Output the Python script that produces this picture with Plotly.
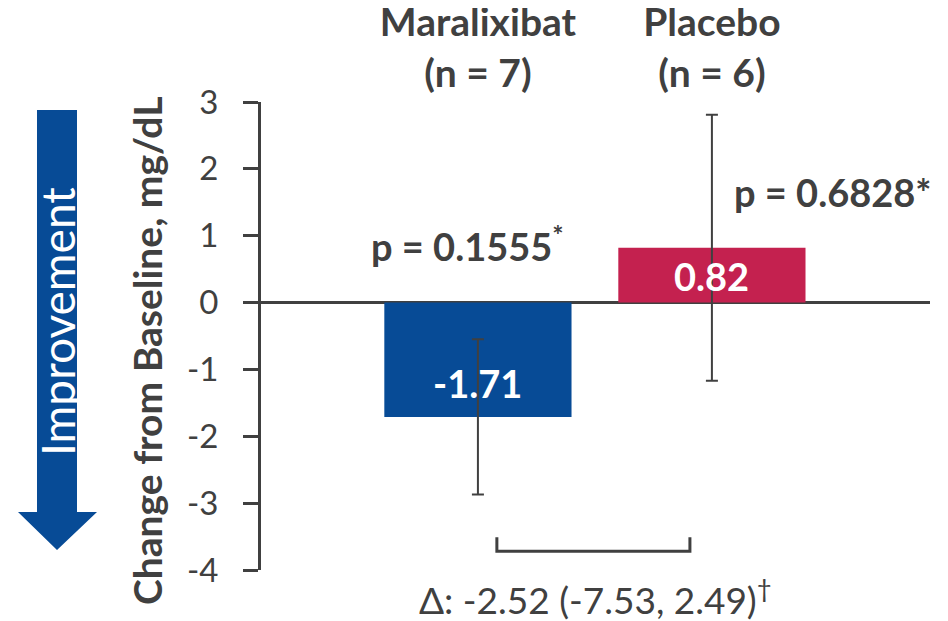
import plotly.graph_objects as go

# ---- data ----
groups = ["Maralixibat", "Placebo"]
n_patients = [7, 6]
change = [-1.71, 0.82]
err = [1.16, 1.99]
p_values = ["0.1555", "0.6828"]
bar_colors = ["#074B96", "#C4214F"]
y_ticks = [3, 2, 1, 0, -1, -2, -3, -4]
delta_text = "Δ: -2.52 (-7.53, 2.49)"

TXT = "#404040"
FONT = "Lato"
OFF = 8  # page body margin
W, H = 948 - OFF, 621 - OFF
PL, PR, PT, PB = 261, 930, 102, 570  # plot area in window pixels
L, R, T, B = PL - OFF, 948 - PR, PT - OFF, 621 - PB
PW, PH = PR - PL, PB - PT


def px(x):
    return (x - PL) / PW


def py(y):
    return (PB - y) / PH


fig = go.Figure()
fig.add_trace(go.Bar(
    x=groups, y=change, width=0.8,
    marker=dict(color=bar_colors, line=dict(width=0)),
    error_y=dict(type="data", array=err, visible=True, color=TXT, thickness=2, width=6),
    hoverinfo="skip",
))

annotations = []
# value labels inside bars
for g, v in zip(groups, change):
    annotations.append(dict(
        x=g, y=v * 0.7 if v < 0 else v * 0.48, xref="x", yref="y",
        xanchor="center", yanchor="middle",
        text=f"<b>{v:.2f}</b>", showarrow=False,
        font=dict(family=FONT, size=38, color="white"),
    ))
# p-values
annotations.append(dict(
    x=groups[0], y=0.88, xref="x", yref="y", xshift=-10,
    xanchor="center", yanchor="middle",
    text=f"<b>p = {p_values[0]}<sup>*</sup></b>", showarrow=False,
    font=dict(family=FONT, size=38, color=TXT),
))
annotations.append(dict(
    x=px(732), y=py(192), xref="paper", yref="paper",
    xanchor="left", yanchor="middle",
    text=f"<b>p = {p_values[1]}*</b>", showarrow=False,
    font=dict(family=FONT, size=38, color=TXT),
))
# delta text
annotations.append(dict(
    x=px(595), y=py(597), xref="paper", yref="paper",
    xanchor="center", yanchor="middle",
    text=delta_text + "<sup>†</sup>", showarrow=False,
    font=dict(family=FONT, size=37, color=TXT),
))
# y axis title
annotations.append(dict(
    x=px(147), y=py(351), xref="paper", yref="paper", textangle=-90,
    xanchor="center", yanchor="middle",
    text="<b>Change from Baseline, mg/dL</b>", showarrow=False,
    font=dict(family=FONT, size=39, color=TXT),
))
# Improvement text
annotations.append(dict(
    x=px(57), y=py(322), xref="paper", yref="paper", textangle=-90,
    xanchor="center", yanchor="middle",
    text="Improvement", showarrow=False,
    font=dict(family=FONT, size=46, color="white"),
))

# arrow shape (window pixel positions -> paper)
arrow_pts = [(37, 110), (77, 110), (77, 512), (97, 512), (57, 550), (18, 512), (37, 512)]
arrow_path = "M " + " L ".join(f"{px(a):.5f},{py(b):.5f}" for a, b in arrow_pts) + " Z"
shapes = [dict(type="path", path=arrow_path, xref="paper", yref="paper",
               fillcolor=bar_colors[0], line=dict(width=0), layer="below")]
# bracket
bx0, bx1, by0, by1 = 0.081, 0.906, -3.51, -3.72
shapes.append(dict(type="path", xref="x", yref="y",
                   path=f"M {bx0},{by0} L {bx0},{by1} L {bx1},{by1} L {bx1},{by0}",
                   line=dict(color=TXT, width=3)))

fig.update_layout(
    width=W, height=H, autosize=False,
    margin=dict(l=L, r=R, t=T, b=B, pad=0),
    plot_bgcolor="white", paper_bgcolor="white",
    showlegend=False,
    annotations=annotations, shapes=shapes,
    font=dict(family=FONT, color=TXT),
    xaxis=dict(
        side="top", type="category", range=[-0.927, 1.932],
        tickvals=groups,
        ticktext=[f"<b>{g}<br>(n = {n})</b>" for g, n in zip(groups, n_patients)],
        tickfont=dict(family=FONT, size=39, color=TXT),
        ticklabelstandoff=6,
        showline=False, ticks="", showgrid=False, zeroline=False, automargin=False,
    ),
    yaxis=dict(
        range=[-4, 3], tickvals=y_ticks, ticktext=[str(t) for t in y_ticks],
        tickfont=dict(family=FONT, size=33, color=TXT),
        showline=True, linecolor=TXT, linewidth=3,
        ticks="outside", ticklen=15, tickwidth=3, tickcolor=TXT,
        ticklabelstandoff=18, automargin=False,
        showgrid=False, zeroline=True, zerolinecolor=TXT, zerolinewidth=3,
    ),
)

fig.write_html("out.html")
